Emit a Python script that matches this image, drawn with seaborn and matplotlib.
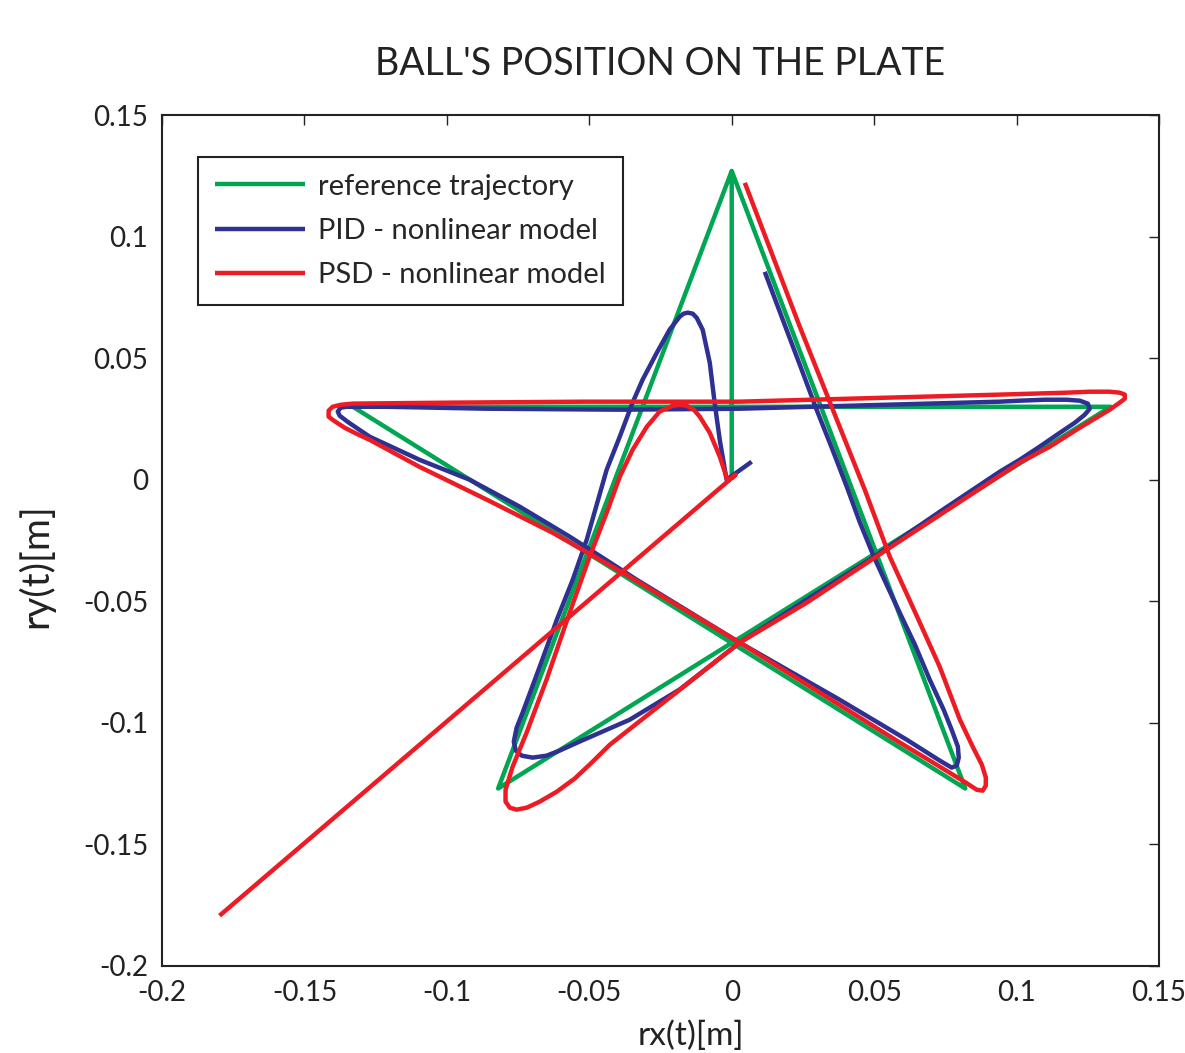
import matplotlib
matplotlib.use("Agg")
import numpy as np
import pandas as pd
import seaborn as sns
import matplotlib.pyplot as plt
from matplotlib import font_manager

# ---------------- data (metres) ----------------
ref_x = [0.0, 0.0, -0.082, 0.133, -0.133, 0.082, 0.0]
ref_y = [0.0, 0.127, -0.127, 0.030, 0.030, -0.127, 0.127]

pid_x = [0.0070, -0.0018, -0.0042, -0.0060, -0.0077, -0.0102, -0.0123, -0.0137, -0.0154,
         -0.0169, -0.0183, -0.0218, -0.0263, -0.0313, -0.0348, -0.0393, -0.0439, -0.0509,
         -0.0558, -0.0614, -0.0674, -0.0734, -0.0755, -0.0765, -0.0758, -0.0737, -0.0699,
         -0.0650, -0.0604, -0.0534, -0.0358, -0.0183, 0.0028, 0.0263, 0.0495, 0.0730,
         0.0941, 0.1011, 0.1081, 0.1152, 0.1204, 0.1239, 0.1257, 0.1250, 0.1222, 0.1176,
         0.1099, 0.1011, 0.0941, 0.0028, -0.0393, -0.0860, -0.1211, -0.1352, -0.1373,
         -0.1383, -0.1376, -0.1348, -0.1313, -0.1271, -0.1096, -0.0920, -0.0744, -0.0569,
         -0.0453, -0.0334, 0.0028, 0.0379, 0.0614, 0.0730, 0.0772, 0.0790, 0.0797, 0.0794,
         0.0772, 0.0744, 0.0695, 0.0643, 0.0593, 0.0544, 0.0499, 0.0449, 0.0404, 0.0351,
         0.0298, 0.0239, 0.0186, 0.0116]
pid_y = [0.0074, 0.0000, 0.0164, 0.0317, 0.0481, 0.0617, 0.0666, 0.0683, 0.0687,
         0.0683, 0.0670, 0.0617, 0.0522, 0.0411, 0.0317, 0.0177, 0.0041, -0.0247,
         -0.0411, -0.0576, -0.0769, -0.0958, -0.1020, -0.1077, -0.1114, -0.1135, -0.1143,
         -0.1135, -0.1114, -0.1077, -0.0987, -0.0863, -0.0670, -0.0493, -0.0321, -0.0132,
         0.0033, 0.0082, 0.0136, 0.0193, 0.0234, 0.0267, 0.0292, 0.0313, 0.0325, 0.0329,
         0.0329, 0.0325, 0.0321, 0.0292, 0.0288, 0.0292, 0.0300, 0.0300, 0.0296,
         0.0280, 0.0263, 0.0238, 0.0210, 0.0177, 0.0082, 0.0000, -0.0111, -0.0234,
         -0.0321, -0.0411, -0.0670, -0.0905, -0.1069, -0.1155, -0.1184, -0.1176, -0.1143, -0.1098,
         -0.1028, -0.0946, -0.0822, -0.0678, -0.0555, -0.0432, -0.0317, -0.0173, -0.0029, 0.0132,
         0.0288, 0.0473, 0.0637, 0.0855]

psd_x = [-0.1798, 0.0014, -0.0014, -0.0042, -0.0077, -0.0112, -0.0133, -0.0158, -0.0183,
         -0.0207, -0.0232, -0.0253, -0.0298, -0.0348, -0.0393, -0.0439, -0.0499, -0.0569,
         -0.0650, -0.0720, -0.0769, -0.0794, -0.0794, -0.0779, -0.0755, -0.0720, -0.0674,
         -0.0614, -0.0551, -0.0492, -0.0428, -0.0200, 0.0028, 0.0263, 0.0544, 0.1011,
         0.1117, 0.1222, 0.1327, 0.1362, 0.1380, 0.1380, 0.1362, 0.1327, 0.1257, 0.1176,
         0.0941, 0.0028, -0.0509, -0.0980, -0.1331, -0.1373, -0.1401, -0.1415, -0.1415,
         -0.1397, -0.1359, -0.1317, -0.1271, -0.1096, -0.0860, -0.0629, -0.0383, 0.0028,
         0.0590, 0.0695, 0.0765, 0.0822, 0.0860, 0.0881, 0.0892, 0.0892, 0.0878, 0.0846,
         0.0801, 0.0730, 0.0643, 0.0555, 0.0467, 0.0369, 0.0239, 0.0046]
psd_y = [-0.1793, 0.0021, -0.0004, 0.0095, 0.0193, 0.0259, 0.0288, 0.0304, 0.0308,
         0.0304, 0.0292, 0.0280, 0.0218, 0.0123, 0.0012, -0.0136, -0.0317, -0.0547,
         -0.0822, -0.1040, -0.1180, -0.1275, -0.1324, -0.1349, -0.1357, -0.1349, -0.1324,
         -0.1283, -0.1229, -0.1164, -0.1090, -0.0880, -0.0670, -0.0506, -0.0288, 0.0070,
         0.0136, 0.0214, 0.0288, 0.0317, 0.0333, 0.0350, 0.0358, 0.0362, 0.0362, 0.0358,
         0.0350, 0.0321, 0.0321, 0.0317, 0.0313, 0.0308, 0.0300, 0.0284, 0.0259,
         0.0243, 0.0214, 0.0189, 0.0164, 0.0053, -0.0082, -0.0218, -0.0382, -0.0670,
         -0.1081, -0.1155, -0.1205, -0.1246, -0.1275, -0.1279, -0.1258, -0.1225, -0.1172, -0.1098,
         -0.0987, -0.0769, -0.0543, -0.0317, -0.0041, 0.0247, 0.0629, 0.1221]

series_names = ["reference trajectory", "PID - nonlinear model", "PSD - nonlinear model"]
series_colors = ["#00a651", "#2e3192", "#ed1c24"]

tick_values = [-0.2, -0.15, -0.1, -0.05, 0.0, 0.05, 0.1, 0.15]
tick_labels = ["-0.2", "-0.15", "-0.1", "-0.05", "0", "0.05", "0.1", "0.15"]

title_text = "BALL'S POSITION ON THE PLATE"
xlabel_text = "rx(t)[m]"
ylabel_text = "ry(t)[m]"

# ---------------- build table ----------------
frames = []
for name, xs, ys in zip(series_names, [ref_x, pid_x, psd_x], [ref_y, pid_y, psd_y]):
    frames.append(pd.DataFrame({"x": xs, "y": ys, "series": name}))
df = pd.concat(frames, ignore_index=True)

# ---------------- style ----------------
sns.set_theme(style="white")
avail = {f.name for f in font_manager.fontManager.ttflist}
fam = next((f for f in ["Lato", "Roboto", "Open Sans", "DejaVu Sans"] if f in avail), "DejaVu Sans")
plt.rcParams["font.family"] = [fam, "DejaVu Sans"]

fig = plt.figure(figsize=(11.85, 10.53), dpi=100)
ax = fig.add_axes([162 / 1185, 1 - 966 / 1053, 997 / 1185, 851 / 1053])

sns.lineplot(data=df, x="x", y="y", hue="series", hue_order=series_names,
             palette=series_colors, sort=False, estimator=None, units="series",
             linewidth=3.2, solid_joinstyle="round", solid_capstyle="butt", ax=ax)

ax.set_xlim(-0.2, 0.15)
ax.set_ylim(-0.2, 0.15)
ax.set_xticks(tick_values)
ax.set_xticklabels(tick_labels)
ax.set_yticks(tick_values)
ax.set_yticklabels(tick_labels)
ax.tick_params(direction="in", length=7, width=1.0, top=True, right=True,
               labelsize=20, pad=10, colors="#222222")
for s in ax.spines.values():
    s.set_color("#222222")
    s.set_linewidth(1.5)
ax.grid(False)

ax.set_title(title_text, fontsize=27, pad=29, color="#222222")
ax.set_xlabel(xlabel_text, fontsize=24, color="#222222")
ax.set_ylabel(ylabel_text, fontsize=28, color="#222222")
ax.xaxis.set_label_coords(0.53, -0.064)
ax.yaxis.set_label_coords(-0.108, 0.471)

leg = ax.legend(loc="upper left", bbox_to_anchor=(0.036, 0.951), borderaxespad=0,
                frameon=True, fancybox=False, edgecolor="#222222", framealpha=1,
                fontsize=21, handlelength=3.1, handletextpad=0.45, labelspacing=0.63,
                borderpad=0.58)
leg.get_frame().set_linewidth(1.5)
for line in leg.get_lines():
    line.set_linewidth(3.2)

fig.savefig("out.png", dpi=100)
